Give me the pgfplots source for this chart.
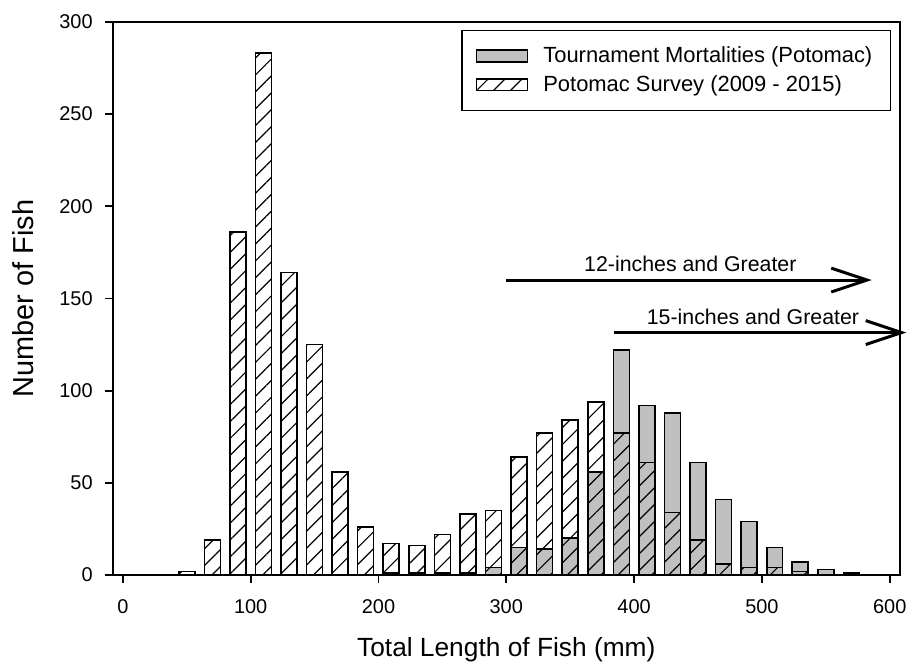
\documentclass[border=0pt]{standalone}
\usepackage{fontspec}
\setmainfont{Liberation Sans}
\usepackage{pgfplots}
\usepackage{pgfplotstable}
\pgfplotsset{compat=1.18}
\usetikzlibrary{patterns.meta,arrows.meta}
\definecolor{barGray}{RGB}{192,192,192}

\pgfplotstableread{
x y
50 2
70 19
90 186
110 283
130 164
150 125
170 56
190 26
210 17
230 16
250 22
270 33
290 35
310 64
330 77
350 84
370 94
390 77
410 61
430 34
450 19
470 6
490 4
510 4
530 2
}\survey

\pgfplotstableread{
x y
210 1
230 1
250 1
270 1
290 4
310 15
330 14
350 20
370 56
390 122
410 92
430 88
450 61
470 41
490 29
510 15
530 7
550 3
570 1
}\tourn

\begin{document}
\begin{tikzpicture}
\begin{axis}[
  name=ax,
  scale only axis,
  width=395pt, height=277.5pt,
  xmin=-8, xmax=608, ymin=0, ymax=300,
  xtick={0,100,...,600}, ytick={0,50,...,300},
  tick align=outside, tick pos=left,
  major tick length=4pt,
  axis line style={line width=0.9pt},
  every tick/.style={line width=0.9pt, black},
  ticklabel style={font=\fontsize{10}{12}\selectfont},
  xticklabel style={yshift=-5pt},
  yticklabel style={xshift=-2.5pt},
  /pgf/number format/assume math mode=true,
  xlabel={Total Length of Fish (mm)},
  ylabel={Number of Fish},
  every axis x label/.style={at={(axis description cs:0.5,-0.135)}, anchor=center, font=\fontsize{13.2}{15}\selectfont},
  every axis y label/.style={at={(axis description cs:-0.114,0.5)}, anchor=center, rotate=90, font=\fontsize{14.5}{16}\selectfont},
  clip=false,
  legend cell align=left,
  legend style={at={(1,1)}, anchor=north east, xshift=-4.5pt, yshift=-4pt,
    draw=black, line width=0.7pt, font=\fontsize{11}{13}\selectfont,
    inner xsep=7pt, inner ysep=6pt, row sep=1pt},
  mylegend/.style={legend image code/.code={\draw[##1,line width=0.7pt] (0pt,-3pt) rectangle (25.5pt,3pt); \path (31pt,0pt);}},
]
\addplot[ybar, bar shift=0pt, bar width=12.5, fill=barGray, draw=black, line width=0.8pt, mylegend]
  table[x=x,y=y]{\tourn};
\addlegendentry{Tournament Mortalities (Potomac)}
\addplot[ybar, bar shift=0pt, bar width=12.5, draw=black, line width=0.8pt,
  pattern={Lines[angle=45,distance=6pt,line width=0.6pt]}, pattern color=black, mylegend]
  table[x=x,y=y]{\survey};
\addlegendentry{Potomac Survey (2009 - 2015)}

\node[font=\fontsize{10.7}{12}\selectfont] at (axis cs:444,169) {12-inches and Greater};
\node[font=\fontsize{10.7}{12}\selectfont] at (axis cs:493,140) {15-inches and Greater};
\draw[line width=1.5pt, -{Straight Barb[length=18pt,width=12pt]}] (axis cs:300,160) -- (axis cs:586,160);
\draw[line width=1.5pt, -{Straight Barb[length=18pt,width=12pt]}] (axis cs:384,131.5) -- (axis cs:613,131.5);
\end{axis}
\path ([xshift=-56.5pt,yshift=-46pt]ax.south west) rectangle ([xshift=5pt,yshift=11pt]ax.north east);
\end{tikzpicture}
\end{document}
